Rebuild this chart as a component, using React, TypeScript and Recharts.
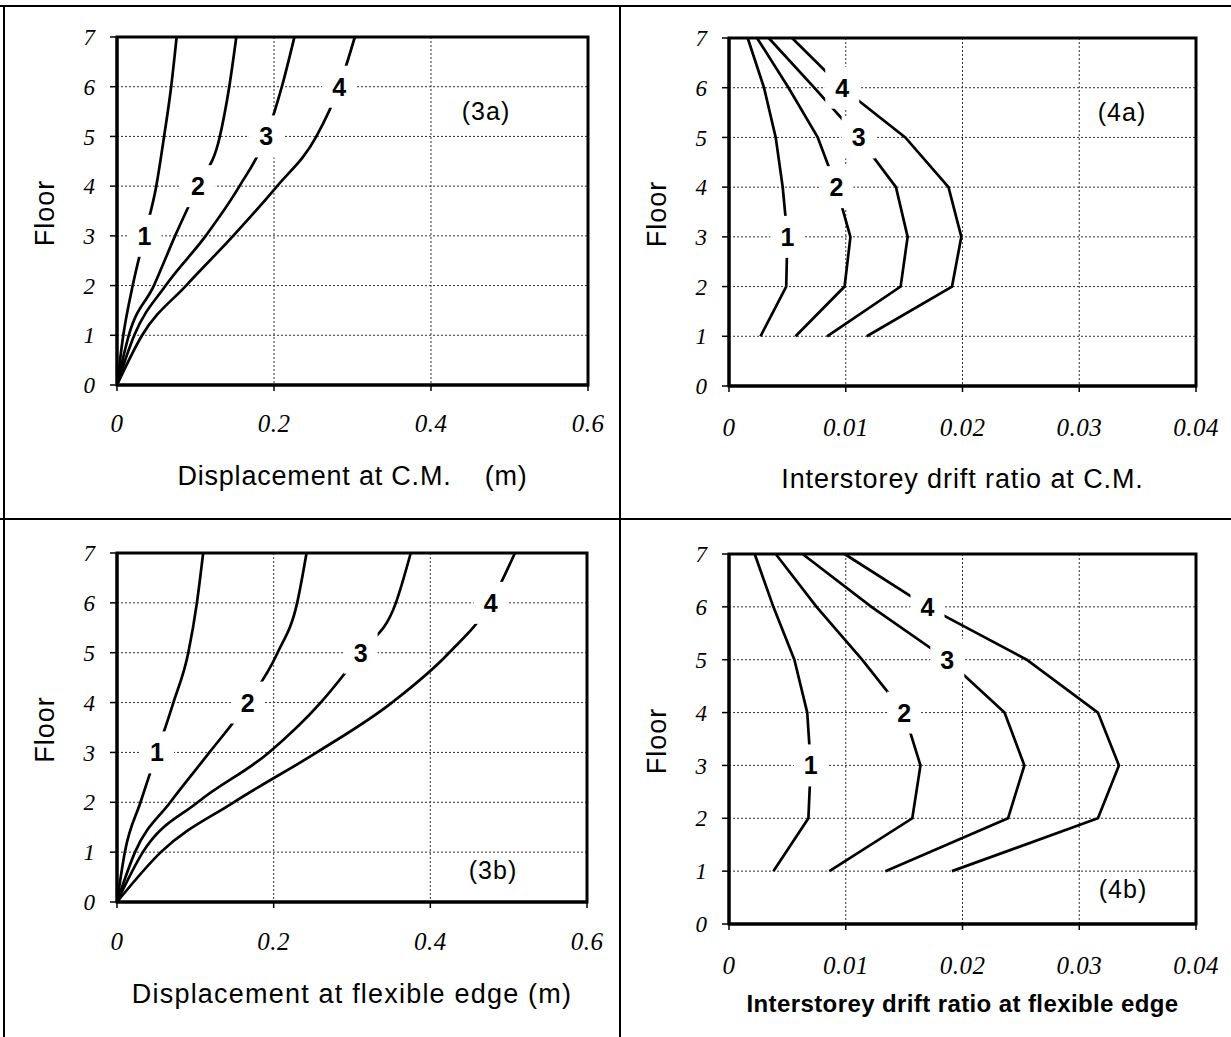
import React from 'react';
import { ComposedChart, Line, Scatter, XAxis, YAxis, CartesianGrid, ReferenceArea } from 'recharts';

// floors of the building (y values)
const FLOORS_DISP = [0, 1, 2, 3, 4, 5, 6, 7];
const FLOORS_DRIFT = [1, 2, 3, 4, 5, 6, 7];
const FLOOR_TICKS = [0, 1, 2, 3, 4, 5, 6, 7];
const CURVE_NAMES = ['1', '2', '3', '4'];
const LABEL_FLOORS = [3, 4, 5, 6];

const DISP_TICKS = [0, 0.2, 0.4, 0.6];
const DRIFT_TICKS = [0, 0.01, 0.02, 0.03, 0.04];

// (3a) displacement at C.M. (m)
const DISP_CM_1 = [0, 0.008, 0.02, 0.035, 0.05, 0.06, 0.069, 0.076];
const DISP_CM_2 = [0, 0.015, 0.047, 0.074, 0.103, 0.131, 0.143, 0.152];
const DISP_CM_3 = [0, 0.022, 0.062, 0.113, 0.156, 0.19, 0.21, 0.226];
const DISP_CM_4 = [0, 0.032, 0.088, 0.148, 0.204, 0.254, 0.283, 0.303];

// (3b) displacement at flexible edge (m)
const DISP_FE_1 = [0, 0.01, 0.03, 0.051, 0.072, 0.091, 0.102, 0.11];
const DISP_FE_2 = [0, 0.023, 0.068, 0.118, 0.167, 0.205, 0.23, 0.242];
const DISP_FE_3 = [0, 0.033, 0.103, 0.194, 0.26, 0.311, 0.356, 0.375];
const DISP_FE_4 = [0, 0.056, 0.149, 0.255, 0.351, 0.424, 0.477, 0.508];

// (4a) interstorey drift ratio at C.M.
const DRIFT_CM_1 = [0.0027, 0.0049, 0.005, 0.0046, 0.004, 0.003, 0.0016];
const DRIFT_CM_2 = [0.0057, 0.0099, 0.0104, 0.0092, 0.0076, 0.0051, 0.0024];
const DRIFT_CM_3 = [0.0084, 0.0147, 0.0153, 0.0143, 0.0111, 0.0073, 0.0034];
const DRIFT_CM_4 = [0.0118, 0.0191, 0.0199, 0.0188, 0.0151, 0.0097, 0.0054];

// (4b) interstorey drift ratio at flexible edge
const DRIFT_FE_1 = [0.0038, 0.0068, 0.007, 0.0067, 0.0056, 0.0038, 0.0022];
const DRIFT_FE_2 = [0.0086, 0.0157, 0.0164, 0.015, 0.0114, 0.0075, 0.004];
const DRIFT_FE_3 = [0.0134, 0.0239, 0.0253, 0.0236, 0.0187, 0.0122, 0.0063];
const DRIFT_FE_4 = [0.0191, 0.0316, 0.0334, 0.0316, 0.0255, 0.017, 0.0099];

const SANS = '"Liberation Sans", Arial, sans-serif';
const SERIF = '"Liberation Serif", "Times New Roman", serif';

const toPoints = (values: number[], floors: number[]) =>
  floors.map((f, i) => ({ x: values[i], floor: f }));

// curve number with a white box that cuts the line and the grid behind it
function CurveLabel(props: any) {
  const { cx, cy, payload } = props;
  if (cx == null || cy == null) return null;
  return (
    <g>
      <rect x={cx - 17} y={cy - 21} width={34} height={42} fill="#fff" />
      <text
        x={cx}
        y={cy}
        textAnchor="middle"
        dominantBaseline="central"
        fontFamily={SANS}
        fontWeight="bold"
        fontSize={25}
        fill="#000"
      >
        {payload.name}
      </text>
    </g>
  );
}

interface PanelProps {
  left: number;
  top: number;
  width: number;
  height: number;
  margin: { top: number; right: number; bottom: number; left: number };
  series: number[][];
  floors: number[];
  xTicks: number[];
  curve: 'monotone' | 'linear';
  title: string;
  titleStyle: React.CSSProperties;
  titleOffset: number;
  tickMargin: number;
  tag: string;
  tagX: number;
  tagY: number;
}

function Panel(p: PanelProps) {
  const xMax = p.xTicks[p.xTicks.length - 1];
  const labels = p.series.map((vals, k) => {
    const idx = p.floors.indexOf(LABEL_FLOORS[k]);
    return { x: vals[idx], floor: LABEL_FLOORS[k], name: CURVE_NAMES[k] };
  });

  const xTitle = (props: any) => {
    const vb = props.viewBox;
    return (
      <text
        x={vb.x + vb.width / 2}
        y={vb.y + p.titleOffset}
        textAnchor="middle"
        fill="#000"
        style={p.titleStyle}
      >
        {p.title}
      </text>
    );
  };

  const yTitle = (props: any) => {
    const vb = props.viewBox;
    const cx = vb.x + vb.width - 72;
    const cy = vb.y + vb.height / 2 + 2;
    return (
      <text
        x={cx}
        y={cy}
        transform={`rotate(-90 ${cx} ${cy})`}
        textAnchor="middle"
        dominantBaseline="central"
        fill="#000"
        style={{ fontFamily: SANS, fontSize: 27, letterSpacing: 1 }}
      >
        Floor
      </text>
    );
  };

  return (
    <div style={{ position: 'absolute', left: p.left, top: p.top, width: p.width, height: p.height }}>
      <ComposedChart width={p.width} height={p.height} margin={p.margin}>
        <CartesianGrid stroke="#333" strokeDasharray="2 2" strokeWidth={1} />
        <XAxis
          type="number"
          dataKey="x"
          domain={[0, xMax]}
          ticks={p.xTicks}
          allowDataOverflow
          height={110}
          tickSize={6}
          tickMargin={p.tickMargin}
          axisLine={{ stroke: '#000', strokeWidth: 3 }}
          tickLine={{ stroke: '#000', strokeWidth: 1.5 }}
          tick={{ fontFamily: SERIF, fontStyle: 'italic', fontSize: 25, fill: '#000', letterSpacing: 0.5 }}
          label={xTitle}
        />
        <YAxis
          type="number"
          dataKey="floor"
          domain={[0, 7]}
          ticks={FLOOR_TICKS}
          width={60}
          tickSize={7}
          tickMargin={15}
          axisLine={{ stroke: '#000', strokeWidth: 3 }}
          tickLine={{ stroke: '#000', strokeWidth: 1.5 }}
          tick={{ fontFamily: SERIF, fontStyle: 'italic', fontSize: 23, fill: '#000' }}
          label={yTitle}
        />
        <ReferenceArea
          x1={0}
          x2={xMax}
          y1={0}
          y2={7}
          fill="none"
          fillOpacity={0}
          stroke="#000"
          strokeWidth={3}
        />
        {p.series.map((vals, k) => (
          <Line
            key={k}
            data={toPoints(vals, p.floors)}
            dataKey="floor"
            type={p.curve}
            stroke="#000"
            strokeWidth={2.7}
            dot={false}
            activeDot={false}
            isAnimationActive={false}
          />
        ))}
        <Scatter data={labels} dataKey="floor" shape={CurveLabel} isAnimationActive={false} />
      </ComposedChart>
      <div
        style={{
          position: 'absolute',
          left: p.tagX,
          top: p.tagY,
          transform: 'translate(-50%, -50%)',
          fontFamily: SANS,
          fontSize: 25,
          letterSpacing: 1,
          whiteSpace: 'nowrap',
          background: '#fff',
          lineHeight: 1,
        }}
      >
        {p.tag}
      </div>
    </div>
  );
}

export default function App() {
  return (
    <div style={{ position: 'absolute', left: 0, top: 0, width: 1231, height: 1037, background: '#fff', overflow: 'hidden' }}>
      <Panel
        left={0}
        top={0}
        width={620}
        height={518}
        margin={{ top: 37, right: 32, bottom: 23, left: 57 }}
        series={[DISP_CM_1, DISP_CM_2, DISP_CM_3, DISP_CM_4]}
        floors={FLOORS_DISP}
        xTicks={DISP_TICKS}
        curve="monotone"
        title={'Displacement at C.M.\u00A0\u00A0\u00A0 (m)'}
        titleStyle={{ fontFamily: SANS, fontSize: 27, letterSpacing: 0.8 }}
        titleOffset={100}
        tickMargin={23}
        tag="(3a)"
        tagX={486}
        tagY={111}
      />
      <Panel
        left={620}
        top={0}
        width={611}
        height={518}
        margin={{ top: 38, right: 35, bottom: 22, left: 49 }}
        series={[DRIFT_CM_1, DRIFT_CM_2, DRIFT_CM_3, DRIFT_CM_4]}
        floors={FLOORS_DRIFT}
        xTicks={DRIFT_TICKS}
        curve="linear"
        title="Interstorey drift ratio at C.M."
        titleStyle={{ fontFamily: SANS, fontSize: 27, letterSpacing: 0.9 }}
        titleOffset={102}
        tickMargin={26}
        tag="(4a)"
        tagX={502}
        tagY={112}
      />
      <Panel
        left={0}
        top={518}
        width={620}
        height={519}
        margin={{ top: 35, right: 33, bottom: 25, left: 57 }}
        series={[DISP_FE_1, DISP_FE_2, DISP_FE_3, DISP_FE_4]}
        floors={FLOORS_DISP}
        xTicks={DISP_TICKS}
        curve="monotone"
        title="Displacement at flexible edge (m)"
        titleStyle={{ fontFamily: SANS, fontSize: 27, letterSpacing: 1.2 }}
        titleOffset={101}
        tickMargin={24}
        tag="(3b)"
        tagX={493}
        tagY={352}
      />
      <Panel
        left={620}
        top={518}
        width={611}
        height={519}
        margin={{ top: 36, right: 35, bottom: 3, left: 49 }}
        series={[DRIFT_FE_1, DRIFT_FE_2, DRIFT_FE_3, DRIFT_FE_4]}
        floors={FLOORS_DRIFT}
        xTicks={DRIFT_TICKS}
        curve="linear"
        title="Interstorey drift ratio at flexible edge"
        titleStyle={{ fontFamily: SANS, fontSize: 24, fontWeight: 'bold', letterSpacing: 0.4 }}
        titleOffset={88}
        tickMargin={26}
        tag="(4b)"
        tagX={503}
        tagY={371}
      />
      {/* figure frame */}
      <div style={{ position: 'absolute', left: 0, top: 5, width: 1231, height: 2, background: '#000' }} />
      <div style={{ position: 'absolute', left: 3, top: 5, width: 2, height: 1032, background: '#000' }} />
      <div style={{ position: 'absolute', left: 619, top: 5, width: 2, height: 1032, background: '#000' }} />
      <div style={{ position: 'absolute', left: 0, top: 518, width: 1231, height: 2, background: '#000' }} />
    </div>
  );
}
